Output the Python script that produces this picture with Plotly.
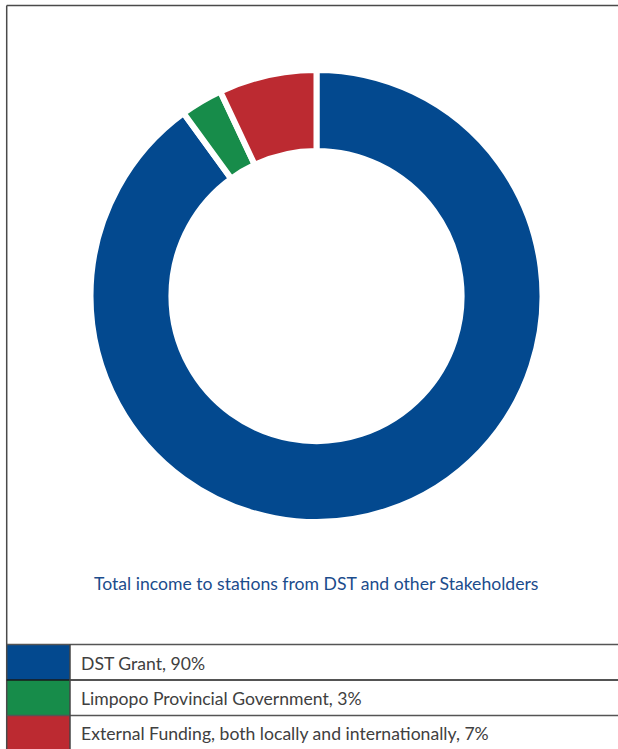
import plotly.graph_objects as go

# Income sources and their shares (%)
categories = ["DST Grant", "Limpopo Provincial Government",
              "External Funding, both locally and internationally"]
shares = [90, 3, 7]
colors = ["#03498F", "#178C4A", "#BC2A31"]
title_text = "Total income to stations from DST and other Stakeholders"

W, H = 618, 749


def px_x(x):
    return x / W


def px_y(y):
    return 1 - y / H


# Donut geometry (pixels)
cx, cy, R = 316.5, 296, 226
fig = go.Figure(go.Pie(
    labels=categories,
    values=shares,
    hole=0.642,
    sort=False,
    direction="clockwise",
    rotation=0,
    marker=dict(colors=colors, line=dict(color="white", width=6)),
    textinfo="none",
    hoverinfo="label+percent",
    showlegend=False,
    domain=dict(x=[px_x(cx - R), px_x(cx + R)], y=[px_y(cy + R), px_y(cy - R)]),
))

shapes = []
line_dark = dict(color="#4a4a4a", width=1.5)
# frame: left and top borders
shapes.append(dict(type="line", xref="paper", yref="paper",
                   x0=px_x(6.7), x1=px_x(6.7), y0=px_y(5.5), y1=px_y(H), line=line_dark))
shapes.append(dict(type="line", xref="paper", yref="paper",
                   x0=px_x(6.7), x1=1, y0=px_y(5.5), y1=px_y(5.5), line=line_dark))

# legend table
row_edges = [644.5, 680, 715.5, 749]
annotations = []
for i, (cat, val, col) in enumerate(zip(categories, shares, colors)):
    top, bot = row_edges[i], row_edges[i + 1]
    shapes.append(dict(type="rect", xref="paper", yref="paper",
                       x0=px_x(7), x1=px_x(70), y0=px_y(bot), y1=px_y(top),
                       fillcolor=col, line=dict(width=0), layer="below"))
    annotations.append(dict(text=f"{cat}, {val}%", xref="paper", yref="paper",
                            x=px_x(79), y=px_y((top + bot) / 2 + 1),
                            xanchor="left", yanchor="middle", showarrow=False,
                            font=dict(family="Lato", size=17.6, color="#404040")))
for k, y in enumerate(row_edges[:3]):
    shapes.append(dict(type="line", xref="paper", yref="paper",
                       x0=px_x(6.7), x1=1, y0=px_y(y), y1=px_y(y),
                       line=dict(color="#1a1a1a" if k == 1 else "#555555", width=1.5)))
shapes.append(dict(type="line", xref="paper", yref="paper",
                   x0=px_x(70), x1=px_x(70), y0=px_y(644.5), y1=px_y(H),
                   line=dict(color="#444444", width=1.5)))

annotations.append(dict(text=title_text, xref="paper", yref="paper",
                        x=px_x(316), y=px_y(583), xanchor="center", yanchor="middle",
                        showarrow=False,
                        font=dict(family="Lato", size=17.6, color="#1B4C8C")))

fig.update_layout(
    width=W, height=H,
    margin=dict(l=0, r=0, t=0, b=0),
    paper_bgcolor="white",
    plot_bgcolor="white",
    shapes=shapes,
    annotations=annotations,
)

fig.write_html("out.html")
